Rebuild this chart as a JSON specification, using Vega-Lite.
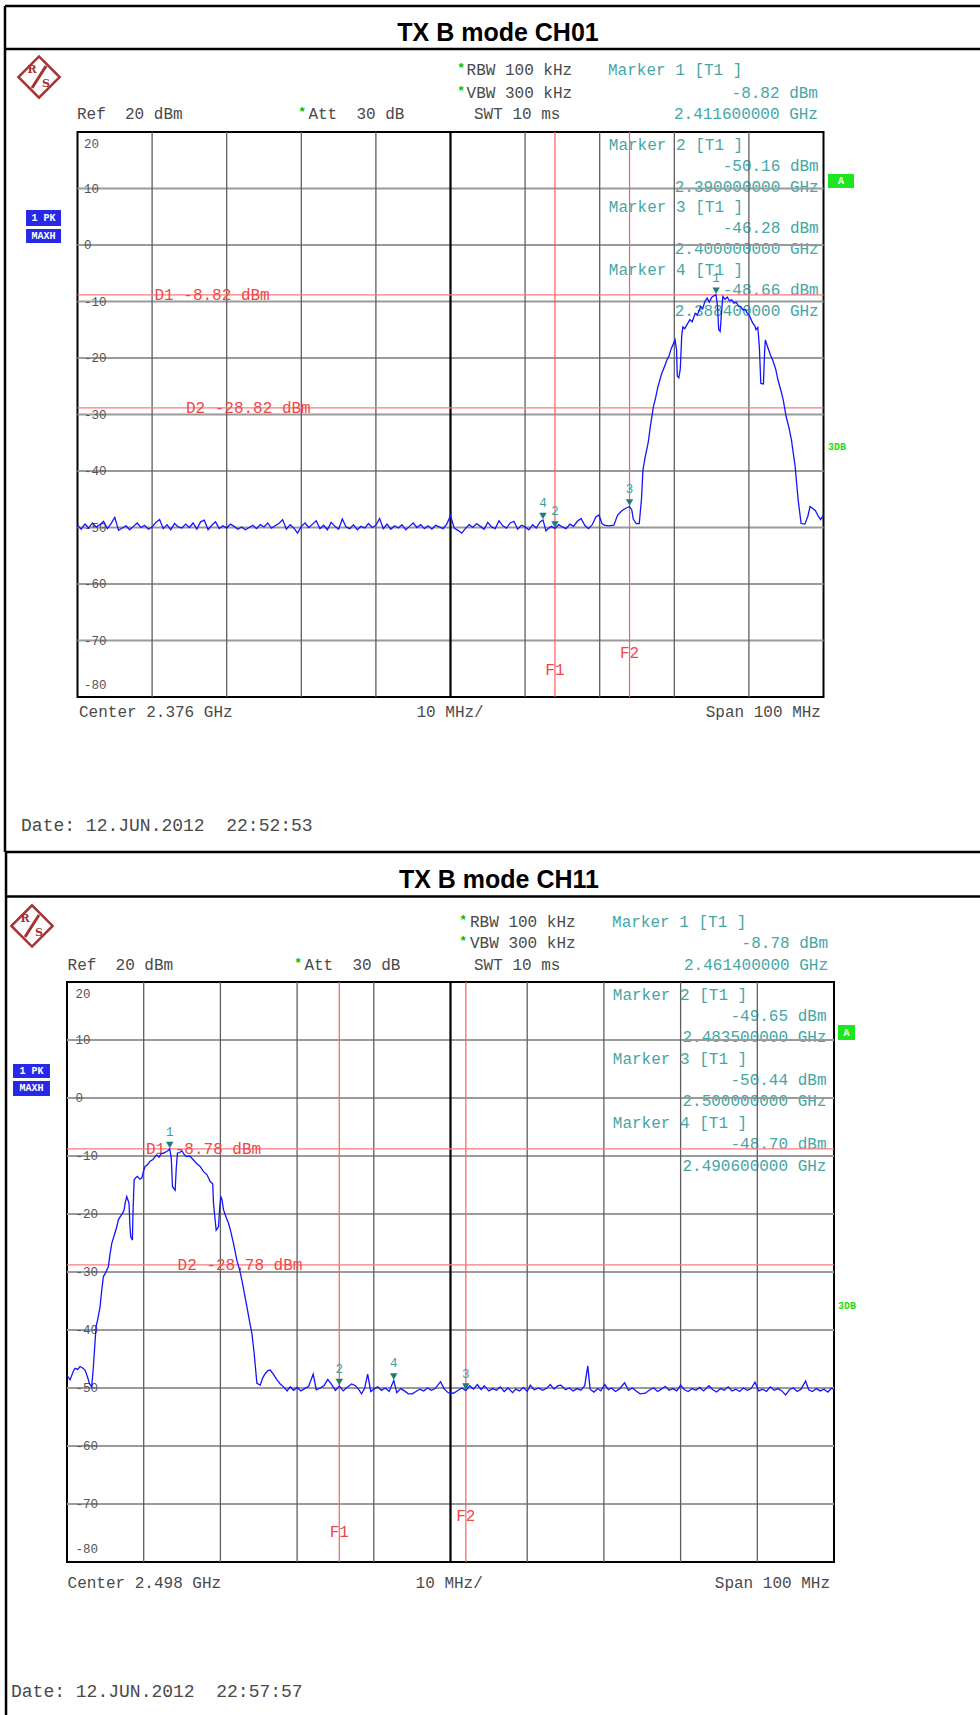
{
"$schema": "https://vega.github.io/schema/vega-lite/v6.json",
"autosize": {"type": "none"},
"padding": {"left": 67, "top": 132, "right": 913, "bottom": 1583},
"background": "white",
"bounds": "flush",
"center": true,
"spacing": 285,
"config": {"view": {"stroke": "black", "strokeWidth": 2}, "axis": {"disable": true}, "legend": {"disable": true}},
"datasets": {
"hg": [{"y":10},{"y":0},{"y":-10},{"y":-20},{"y":-30},{"y":-40},{"y":-50},{"y":-60},{"y":-70}],
"t1": [{"f":2.326,"p":-49.6},{"f":2.3265,"p":-50.3},{"f":2.327,"p":-49.4},{"f":2.3275,"p":-50.1},{"f":2.328,"p":-49.2},{"f":2.3285,"p":-49.9},{"f":2.329,"p":-49.5},{"f":2.3295,"p":-48.9},{"f":2.33,"p":-50.2},{"f":2.3305,"p":-49.3},{"f":2.331,"p":-48.2},{"f":2.3315,"p":-50.5},{"f":2.332,"p":-50.1},{"f":2.3325,"p":-49.7},{"f":2.333,"p":-50.4},{"f":2.3335,"p":-49.8},{"f":2.334,"p":-49.2},{"f":2.3345,"p":-50.0},{"f":2.335,"p":-49.6},{"f":2.3355,"p":-50.3},{"f":2.336,"p":-49.9},{"f":2.3365,"p":-49.1},{"f":2.337,"p":-48.6},{"f":2.3375,"p":-50.2},{"f":2.338,"p":-49.5},{"f":2.3385,"p":-50.4},{"f":2.339,"p":-49.3},{"f":2.3395,"p":-49.9},{"f":2.34,"p":-50.1},{"f":2.3405,"p":-49.4},{"f":2.341,"p":-50.0},{"f":2.3415,"p":-49.2},{"f":2.342,"p":-50.3},{"f":2.3425,"p":-49.0},{"f":2.343,"p":-48.7},{"f":2.3435,"p":-50.4},{"f":2.344,"p":-49.6},{"f":2.3445,"p":-49.0},{"f":2.345,"p":-50.2},{"f":2.3455,"p":-49.7},{"f":2.346,"p":-50.1},{"f":2.3465,"p":-49.4},{"f":2.347,"p":-49.8},{"f":2.3475,"p":-50.3},{"f":2.348,"p":-49.9},{"f":2.3485,"p":-50.4},{"f":2.349,"p":-50.0},{"f":2.3495,"p":-49.6},{"f":2.35,"p":-50.2},{"f":2.3505,"p":-49.5},{"f":2.351,"p":-49.9},{"f":2.3515,"p":-49.2},{"f":2.352,"p":-50.1},{"f":2.3525,"p":-49.7},{"f":2.353,"p":-49.3},{"f":2.3535,"p":-48.6},{"f":2.354,"p":-50.3},{"f":2.3545,"p":-49.5},{"f":2.355,"p":-50.1},{"f":2.3555,"p":-51.0},{"f":2.356,"p":-49.8},{"f":2.3565,"p":-49.2},{"f":2.357,"p":-50.0},{"f":2.3575,"p":-49.4},{"f":2.358,"p":-48.8},{"f":2.3585,"p":-50.2},{"f":2.359,"p":-49.6},{"f":2.3595,"p":-50.4},{"f":2.36,"p":-49.1},{"f":2.3605,"p":-49.8},{"f":2.361,"p":-50.3},{"f":2.3615,"p":-48.5},{"f":2.362,"p":-49.9},{"f":2.3625,"p":-50.2},{"f":2.363,"p":-49.5},{"f":2.3635,"p":-50.4},{"f":2.364,"p":-49.8},{"f":2.3645,"p":-50.1},{"f":2.365,"p":-49.3},{"f":2.3655,"p":-50.0},{"f":2.366,"p":-49.6},{"f":2.3665,"p":-48.4},{"f":2.367,"p":-50.2},{"f":2.3675,"p":-49.4},{"f":2.368,"p":-50.3},{"f":2.3685,"p":-49.7},{"f":2.369,"p":-50.1},{"f":2.3695,"p":-49.5},{"f":2.37,"p":-50.4},{"f":2.3705,"p":-49.8},{"f":2.371,"p":-49.2},{"f":2.3715,"p":-50.0},{"f":2.372,"p":-49.5},{"f":2.3725,"p":-50.2},{"f":2.373,"p":-49.7},{"f":2.3735,"p":-50.3},{"f":2.374,"p":-49.6},{"f":2.3745,"p":-49.9},{"f":2.375,"p":-50.2},{"f":2.3755,"p":-49.4},{"f":2.376,"p":-47.9},{"f":2.3765,"p":-50.1},{"f":2.377,"p":-50.5},{"f":2.3775,"p":-51.0},{"f":2.378,"p":-50.2},{"f":2.3785,"p":-49.5},{"f":2.379,"p":-50.0},{"f":2.3795,"p":-49.3},{"f":2.38,"p":-49.8},{"f":2.3805,"p":-50.3},{"f":2.381,"p":-49.1},{"f":2.3815,"p":-49.9},{"f":2.382,"p":-50.2},{"f":2.3825,"p":-48.8},{"f":2.383,"p":-49.7},{"f":2.3835,"p":-50.1},{"f":2.384,"p":-49.2},{"f":2.3845,"p":-48.9},{"f":2.385,"p":-50.3},{"f":2.3855,"p":-49.6},{"f":2.386,"p":-49.9},{"f":2.3865,"p":-50.4},{"f":2.387,"p":-49.5},{"f":2.3875,"p":-50.1},{"f":2.388,"p":-49.0},{"f":2.3884,"p":-48.66},{"f":2.3888,"p":-50.6},{"f":2.389,"p":-50.3},{"f":2.3895,"p":-49.8},{"f":2.39,"p":-50.16},{"f":2.3905,"p":-49.5},{"f":2.391,"p":-49.9},{"f":2.3915,"p":-50.2},{"f":2.392,"p":-49.4},{"f":2.3925,"p":-49.8},{"f":2.393,"p":-48.9},{"f":2.3935,"p":-48.4},{"f":2.394,"p":-49.6},{"f":2.3945,"p":-50.2},{"f":2.395,"p":-49.5},{"f":2.3955,"p":-48.1},{"f":2.3959,"p":-47.8},{"f":2.3963,"p":-49.3},{"f":2.3966,"p":-49.6},{"f":2.3972,"p":-49.7},{"f":2.3979,"p":-49.6},{"f":2.3984,"p":-47.8},{"f":2.399,"p":-47.0},{"f":2.3995,"p":-46.6},{"f":2.4,"p":-46.28},{"f":2.4003,"p":-46.9},{"f":2.4005,"p":-48.5},{"f":2.4009,"p":-49.3},{"f":2.4013,"p":-49.3},{"f":2.4016,"p":-45.0},{"f":2.4018,"p":-39.8},{"f":2.4021,"p":-37.5},{"f":2.4025,"p":-35.0},{"f":2.4028,"p":-32.0},{"f":2.4032,"p":-28.6},{"f":2.4035,"p":-27.0},{"f":2.4038,"p":-25.1},{"f":2.4043,"p":-22.8},{"f":2.4046,"p":-21.8},{"f":2.405,"p":-20.4},{"f":2.4053,"p":-19.6},{"f":2.4056,"p":-18.3},{"f":2.4061,"p":-16.8},{"f":2.4063,"p":-18.5},{"f":2.4064,"p":-23.2},{"f":2.4066,"p":-23.5},{"f":2.4068,"p":-22.0},{"f":2.407,"p":-16.0},{"f":2.40715,"p":-14.5},{"f":2.4074,"p":-14.8},{"f":2.4077,"p":-14.1},{"f":2.4081,"p":-13.2},{"f":2.4084,"p":-13.6},{"f":2.4088,"p":-12.1},{"f":2.4091,"p":-12.4},{"f":2.4095,"p":-10.9},{"f":2.4098,"p":-11.3},{"f":2.4101,"p":-10.0},{"f":2.4104,"p":-9.4},{"f":2.4107,"p":-10.1},{"f":2.411,"p":-9.3},{"f":2.4113,"p":-9.0},{"f":2.4116,"p":-8.82},{"f":2.4118,"p":-11.0},{"f":2.41195,"p":-15.0},{"f":2.41215,"p":-15.3},{"f":2.4123,"p":-12.5},{"f":2.4125,"p":-9.1},{"f":2.4128,"p":-9.6},{"f":2.4131,"p":-9.2},{"f":2.4134,"p":-9.9},{"f":2.4137,"p":-9.7},{"f":2.414,"p":-10.3},{"f":2.4143,"p":-10.1},{"f":2.4146,"p":-10.8},{"f":2.4149,"p":-10.9},{"f":2.4152,"p":-11.5},{"f":2.4155,"p":-11.4},{"f":2.4158,"p":-12.1},{"f":2.4161,"p":-12.6},{"f":2.4165,"p":-13.8},{"f":2.4168,"p":-14.3},{"f":2.41695,"p":-15.0},{"f":2.4172,"p":-14.6},{"f":2.4174,"p":-18.0},{"f":2.4176,"p":-24.5},{"f":2.41795,"p":-24.6},{"f":2.4181,"p":-19.0},{"f":2.4182,"p":-16.8},{"f":2.4185,"p":-18.0},{"f":2.4189,"p":-19.5},{"f":2.4192,"p":-20.4},{"f":2.4196,"p":-22.0},{"f":2.4199,"p":-23.9},{"f":2.4203,"p":-25.8},{"f":2.4206,"p":-27.4},{"f":2.421,"p":-30.4},{"f":2.4214,"p":-32.5},{"f":2.4217,"p":-34.5},{"f":2.4222,"p":-39.2},{"f":2.4226,"p":-45.1},{"f":2.423,"p":-49.3},{"f":2.4235,"p":-49.4},{"f":2.4239,"p":-48.0},{"f":2.4242,"p":-46.3},{"f":2.4246,"p":-46.7},{"f":2.4249,"p":-47.0},{"f":2.4253,"p":-48.0},{"f":2.4256,"p":-48.6},{"f":2.426,"p":-47.8}],
"t2": [{"f":2.448,"p":-47.8},{"f":2.4484,"p":-48.6},{"f":2.4488,"p":-47.2},{"f":2.44904,"p":-46.6},{"f":2.4494,"p":-46.8},{"f":2.4497,"p":-46.3},{"f":2.45,"p":-46.5},{"f":2.45035,"p":-46.9},{"f":2.4507,"p":-48.2},{"f":2.45092,"p":-49.2},{"f":2.45122,"p":-49.8},{"f":2.45144,"p":-46.3},{"f":2.45179,"p":-39.4},{"f":2.452,"p":-38.2},{"f":2.45231,"p":-36.0},{"f":2.4525,"p":-33.5},{"f":2.45274,"p":-30.8},{"f":2.453,"p":-30.2},{"f":2.45339,"p":-29.1},{"f":2.4536,"p":-27.0},{"f":2.45383,"p":-25.1},{"f":2.4542,"p":-23.5},{"f":2.45449,"p":-22.2},{"f":2.4547,"p":-21.0},{"f":2.45492,"p":-20.5},{"f":2.4552,"p":-20.0},{"f":2.45544,"p":-19.3},{"f":2.4556,"p":-18.0},{"f":2.45579,"p":-17.0},{"f":2.456,"p":-17.8},{"f":2.45609,"p":-18.2},{"f":2.4562,"p":-22.0},{"f":2.45631,"p":-23.9},{"f":2.45653,"p":-24.5},{"f":2.4566,"p":-20.0},{"f":2.45675,"p":-14.1},{"f":2.457,"p":-13.7},{"f":2.45718,"p":-13.5},{"f":2.4575,"p":-14.0},{"f":2.45775,"p":-13.8},{"f":2.458,"p":-12.5},{"f":2.45818,"p":-11.8},{"f":2.4585,"p":-11.5},{"f":2.45884,"p":-10.9},{"f":2.4592,"p":-10.6},{"f":2.4595,"p":-10.1},{"f":2.45971,"p":-9.8},{"f":2.46,"p":-10.2},{"f":2.4603,"p":-9.6},{"f":2.46058,"p":-9.5},{"f":2.4609,"p":-9.3},{"f":2.46123,"p":-9.0},{"f":2.4614,"p":-8.78},{"f":2.4616,"p":-10.5},{"f":2.46175,"p":-15.3},{"f":2.4621,"p":-15.9},{"f":2.46225,"p":-12.0},{"f":2.4624,"p":-9.5},{"f":2.4627,"p":-9.4},{"f":2.46297,"p":-9.1},{"f":2.4633,"p":-9.8},{"f":2.46362,"p":-10.1},{"f":2.464,"p":-10.0},{"f":2.46449,"p":-10.7},{"f":2.4649,"p":-11.3},{"f":2.46536,"p":-11.8},{"f":2.4658,"p":-12.7},{"f":2.46624,"p":-13.2},{"f":2.46667,"p":-14.4},{"f":2.467,"p":-14.8},{"f":2.4671,"p":-18.2},{"f":2.46745,"p":-22.8},{"f":2.46775,"p":-22.2},{"f":2.4679,"p":-19.0},{"f":2.46806,"p":-17.0},{"f":2.4682,"p":-17.5},{"f":2.46841,"p":-19.3},{"f":2.4687,"p":-20.4},{"f":2.46906,"p":-21.6},{"f":2.4694,"p":-23.3},{"f":2.46971,"p":-25.1},{"f":2.47015,"p":-28.0},{"f":2.4705,"p":-29.6},{"f":2.4708,"p":-31.4},{"f":2.4711,"p":-33.5},{"f":2.47146,"p":-36.0},{"f":2.4718,"p":-38.5},{"f":2.47211,"p":-40.6},{"f":2.4724,"p":-44.0},{"f":2.47276,"p":-49.2},{"f":2.4732,"p":-49.5},{"f":2.4735,"p":-48.3},{"f":2.47385,"p":-47.5},{"f":2.4742,"p":-47.0},{"f":2.4745,"p":-46.9},{"f":2.4749,"p":-47.6},{"f":2.47538,"p":-48.6},{"f":2.4758,"p":-49.3},{"f":2.47624,"p":-49.8},{"f":2.4767,"p":-50.5},{"f":2.4771,"p":-49.8},{"f":2.47754,"p":-50.4},{"f":2.478,"p":-49.9},{"f":2.4785,"p":-50.5},{"f":2.479,"p":-50.1},{"f":2.4795,"p":-49.7},{"f":2.4801,"p":-47.6},{"f":2.4805,"p":-50.3},{"f":2.481,"p":-50.0},{"f":2.4815,"p":-49.6},{"f":2.482,"p":-48.5},{"f":2.4824,"p":-49.2},{"f":2.483,"p":-50.4},{"f":2.4835,"p":-49.65},{"f":2.484,"p":-50.5},{"f":2.4845,"p":-49.9},{"f":2.4851,"p":-49.3},{"f":2.4856,"p":-49.6},{"f":2.486,"p":-50.2},{"f":2.4864,"p":-51.0},{"f":2.4868,"p":-50.1},{"f":2.4872,"p":-47.6},{"f":2.4876,"p":-50.6},{"f":2.488,"p":-50.2},{"f":2.4885,"p":-49.8},{"f":2.489,"p":-50.4},{"f":2.4895,"p":-50.0},{"f":2.49,"p":-50.6},{"f":2.4906,"p":-48.7},{"f":2.491,"p":-50.8},{"f":2.4915,"p":-50.1},{"f":2.492,"p":-50.5},{"f":2.4925,"p":-51.0},{"f":2.493,"p":-51.0},{"f":2.4935,"p":-50.6},{"f":2.494,"p":-50.2},{"f":2.4945,"p":-50.5},{"f":2.495,"p":-50.0},{"f":2.4955,"p":-50.4},{"f":2.496,"p":-50.1},{"f":2.4967,"p":-48.9},{"f":2.4972,"p":-50.2},{"f":2.4977,"p":-50.8},{"f":2.4984,"p":-50.9},{"f":2.499,"p":-50.4},{"f":2.4995,"p":-50.0},{"f":2.5,"p":-50.44},{"f":2.5005,"p":-49.6},{"f":2.501,"p":-50.2},{"f":2.5015,"p":-49.4},{"f":2.502,"p":-50.3},{"f":2.5024,"p":-49.6},{"f":2.503,"p":-50.5},{"f":2.5035,"p":-50.1},{"f":2.504,"p":-50.4},{"f":2.5045,"p":-49.8},{"f":2.505,"p":-50.6},{"f":2.5055,"p":-50.0},{"f":2.5061,"p":-50.8},{"f":2.5065,"p":-50.2},{"f":2.507,"p":-50.5},{"f":2.5075,"p":-49.9},{"f":2.508,"p":-50.6},{"f":2.5084,"p":-49.5},{"f":2.5089,"p":-50.3},{"f":2.5095,"p":-50.0},{"f":2.51,"p":-50.4},{"f":2.5105,"p":-50.1},{"f":2.511,"p":-49.4},{"f":2.5115,"p":-50.2},{"f":2.512,"p":-49.6},{"f":2.5124,"p":-49.5},{"f":2.513,"p":-50.3},{"f":2.5135,"p":-50.0},{"f":2.514,"p":-50.5},{"f":2.5145,"p":-50.1},{"f":2.515,"p":-50.4},{"f":2.5155,"p":-49.6},{"f":2.5159,"p":-46.2},{"f":2.5162,"p":-50.2},{"f":2.5167,"p":-50.7},{"f":2.5172,"p":-50.1},{"f":2.5176,"p":-50.5},{"f":2.5181,"p":-49.4},{"f":2.5186,"p":-50.3},{"f":2.519,"p":-50.0},{"f":2.5195,"p":-50.6},{"f":2.52,"p":-50.2},{"f":2.5207,"p":-49.1},{"f":2.5212,"p":-50.4},{"f":2.5217,"p":-50.0},{"f":2.5222,"p":-50.5},{"f":2.5227,"p":-51.0},{"f":2.5234,"p":-50.9},{"f":2.524,"p":-50.3},{"f":2.5245,"p":-50.0},{"f":2.525,"p":-50.6},{"f":2.5255,"p":-50.2},{"f":2.526,"p":-49.7},{"f":2.5265,"p":-50.4},{"f":2.527,"p":-50.1},{"f":2.5275,"p":-50.5},{"f":2.528,"p":-49.5},{"f":2.5285,"p":-50.3},{"f":2.529,"p":-50.6},{"f":2.5295,"p":-50.1},{"f":2.53,"p":-50.4},{"f":2.5305,"p":-49.9},{"f":2.531,"p":-50.5},{"f":2.5317,"p":-49.6},{"f":2.5322,"p":-50.3},{"f":2.5327,"p":-50.7},{"f":2.5332,"p":-50.1},{"f":2.5337,"p":-50.4},{"f":2.5342,"p":-49.8},{"f":2.5347,"p":-50.5},{"f":2.5352,"p":-50.2},{"f":2.5357,"p":-50.6},{"f":2.5362,"p":-50.0},{"f":2.5367,"p":-50.4},{"f":2.5372,"p":-50.1},{"f":2.5377,"p":-49.0},{"f":2.5382,"p":-50.5},{"f":2.5387,"p":-50.2},{"f":2.5392,"p":-50.6},{"f":2.5397,"p":-49.8},{"f":2.5402,"p":-50.4},{"f":2.5407,"p":-50.1},{"f":2.5412,"p":-50.5},{"f":2.5417,"p":-51.2},{"f":2.5422,"p":-50.3},{"f":2.5427,"p":-50.0},{"f":2.5432,"p":-50.6},{"f":2.5437,"p":-50.2},{"f":2.5443,"p":-48.8},{"f":2.5447,"p":-50.3},{"f":2.5452,"p":-50.6},{"f":2.5457,"p":-50.1},{"f":2.5462,"p":-50.5},{"f":2.5467,"p":-50.2},{"f":2.5472,"p":-50.7},{"f":2.5477,"p":-50.0},{"f":2.548,"p":-50.3}]
},
"vconcat": [
{
"width": 746, "height": 565,
"layer": [
{"data":{"values":[{"x":2.39711,"y":30.97,"t":"Marker 1 [T1 ]"},{"x":2.39722,"y":17.70,"t":"Marker 2 [T1 ]"},{"x":2.39722,"y":6.64,"t":"Marker 3 [T1 ]"},{"x":2.39722,"y":-4.34,"t":"Marker 4 [T1 ]"}]},"mark":{"type":"text","align":"left","baseline":"middle","font":"Liberation Mono","fontSize":16,"color":"#45a6a6"},"encoding":{"x":{"field":"x","type":"quantitative","scale":{"domain":[2.326,2.426],"nice":false,"zero":false}},"y":{"field":"y","type":"quantitative","scale":{"domain":[-80,20],"nice":false,"zero":false}},"text":{"field":"t","type":"nominal"}}},
{"data":{"values":[{"x":2.42526,"y":26.90,"t":"-8.82 dBm"},{"x":2.42526,"y":23.10,"t":"2.411600000 GHz"},{"x":2.42536,"y":14.07,"t":"-50.16 dBm"},{"x":2.42536,"y":10.35,"t":"2.390000000 GHz"},{"x":2.42536,"y":3.01,"t":"-46.28 dBm"},{"x":2.42536,"y":-0.62,"t":"2.400000000 GHz"},{"x":2.42536,"y":-7.96,"t":"-48.66 dBm"},{"x":2.42536,"y":-11.68,"t":"2.388400000 GHz"}]},"mark":{"type":"text","align":"right","baseline":"middle","font":"Liberation Mono","fontSize":16,"color":"#45a6a6"},"encoding":{"x":{"field":"x","type":"quantitative","scale":{"domain":[2.326,2.426],"nice":false,"zero":false}},"y":{"field":"y","type":"quantitative","scale":{"domain":[-80,20],"nice":false,"zero":false}},"text":{"field":"t","type":"nominal"}}},
{"data":{"name":"hg"},"mark":{"type":"rule","color":"#9a9a9a","strokeWidth":2},"encoding":{"y":{"field":"y","type":"quantitative","scale":{"domain":[-80,20],"nice":false,"zero":false}}}},
{"data":{"values":[{"x":2.336},{"x":2.346},{"x":2.356},{"x":2.366},{"x":2.386},{"x":2.396},{"x":2.406},{"x":2.416}]},"mark":{"type":"rule","color":"#5e5e5e","strokeWidth":1.3},"encoding":{"x":{"field":"x","type":"quantitative","scale":{"domain":[2.326,2.426],"nice":false,"zero":false}}}},
{"data":{"values":[{"x":2.376}]},"mark":{"type":"rule","color":"#000000","strokeWidth":2.2},"encoding":{"x":{"field":"x","type":"quantitative","scale":{"domain":[2.326,2.426],"nice":false,"zero":false}}}},
{"data":{"values":[{"x":2.39},{"x":2.4}]},"mark":{"type":"rule","color":"#ff5c5c","strokeWidth":1.2},"encoding":{"x":{"field":"x","type":"quantitative","scale":{"domain":[2.326,2.426],"nice":false,"zero":false}}}},
{"data":{"values":[{"y":-8.82},{"y":-28.82}]},"mark":{"type":"rule","color":"#ff7a7a","strokeWidth":1.3},"encoding":{"y":{"field":"y","type":"quantitative","scale":{"domain":[-80,20],"nice":false,"zero":false}}}},
{"data":{"values":[{"x":2.33632,"y":-8.82,"t":"D1 -8.82 dBm"},{"x":2.34053,"y":-28.82,"t":"D2 -28.82 dBm"}]},"mark":{"type":"text","align":"left","baseline":"middle","font":"Liberation Mono","fontSize":16,"color":"#f04848"},"encoding":{"x":{"field":"x","type":"quantitative","scale":{"domain":[2.326,2.426],"nice":false,"zero":false}},"y":{"field":"y","type":"quantitative","scale":{"domain":[-80,20],"nice":false,"zero":false}},"text":{"field":"t","type":"nominal"}}},
{"data":{"values":[{"x":2.39,"y":-75.19,"t":"F1"},{"x":2.4,"y":-72.14,"t":"F2"}]},"mark":{"type":"text","align":"center","baseline":"middle","font":"Liberation Mono","fontSize":16,"color":"#f04848"},"encoding":{"x":{"field":"x","type":"quantitative","scale":{"domain":[2.326,2.426],"nice":false,"zero":false}},"y":{"field":"y","type":"quantitative","scale":{"domain":[-80,20],"nice":false,"zero":false}},"text":{"field":"t","type":"nominal"}}},
{"data":{"values":[{"x":2.32687,"y":17.9,"t":"20"},{"x":2.32687,"y":10,"t":"10"},{"x":2.32687,"y":0,"t":"0"},{"x":2.32687,"y":-10,"t":"-10"},{"x":2.32687,"y":-20,"t":"-20"},{"x":2.32687,"y":-30,"t":"-30"},{"x":2.32687,"y":-40,"t":"-40"},{"x":2.32687,"y":-50,"t":"-50"},{"x":2.32687,"y":-60,"t":"-60"},{"x":2.32687,"y":-70,"t":"-70"},{"x":2.32687,"y":-77.9,"t":"-80"}]},"mark":{"type":"text","align":"left","baseline":"middle","font":"Liberation Mono","fontSize":12.5,"color":"#555555"},"encoding":{"x":{"field":"x","type":"quantitative","scale":{"domain":[2.326,2.426],"nice":false,"zero":false}},"y":{"field":"y","type":"quantitative","scale":{"domain":[-80,20],"nice":false,"zero":false}},"text":{"field":"t","type":"nominal"}}},
{"data":{"name":"t1"},"mark":{"type":"line","color":"#1414ff","strokeWidth":1.3},"encoding":{"x":{"field":"f","type":"quantitative","scale":{"domain":[2.326,2.426],"nice":false,"zero":false}},"y":{"field":"p","type":"quantitative","scale":{"domain":[-80,20],"nice":false,"zero":false}}}},
{"data":{"values":[{"f":2.4116,"p":-8.82,"n":"1"},{"f":2.39,"p":-50.16,"n":"2"},{"f":2.4,"p":-46.28,"n":"3"},{"f":2.3884,"p":-48.66,"n":"4"}]},"layer":[
{"mark":{"type":"point","shape":"triangle-down","filled":true,"size":55,"opacity":1,"color":"#1e7b7b","yOffset":-4},"encoding":{"x":{"field":"f","type":"quantitative","scale":{"domain":[2.326,2.426],"nice":false,"zero":false}},"y":{"field":"p","type":"quantitative","scale":{"domain":[-80,20],"nice":false,"zero":false}}}},
{"mark":{"type":"text","align":"center","baseline":"middle","dy":-17,"font":"Liberation Mono","fontSize":12.5,"color":"#3a9e9e"},"encoding":{"x":{"field":"f","type":"quantitative","scale":{"domain":[2.326,2.426],"nice":false,"zero":false}},"y":{"field":"p","type":"quantitative","scale":{"domain":[-80,20],"nice":false,"zero":false}},"text":{"field":"n","type":"nominal"}}}]},
{"data":{"values":[{"x":2.37815,"y":30.97,"t":"RBW 100 kHz"},{"x":2.37815,"y":26.90,"t":"VBW 300 kHz"},{"x":2.32593,"y":23.10,"t":"Ref \u00a020 dBm"},{"x":2.35695,"y":23.10,"t":"Att \u00a030 dB"},{"x":2.37915,"y":23.10,"t":"SWT 10 ms"},{"x":2.3262,"y":-82.74,"t":"Center 2.376 GHz"},{"x":2.37144,"y":-82.74,"t":"10 MHz/"}]},"mark":{"type":"text","align":"left","baseline":"middle","font":"Liberation Mono","fontSize":16,"color":"#4a4a4a"},"encoding":{"x":{"field":"x","type":"quantitative","scale":{"domain":[2.326,2.426],"nice":false,"zero":false}},"y":{"field":"y","type":"quantitative","scale":{"domain":[-80,20],"nice":false,"zero":false}},"text":{"field":"t","type":"nominal"}}},
{"data":{"values":[{"x":2.42566,"y":-82.74,"t":"Span 100 MHz"}]},"mark":{"type":"text","align":"right","baseline":"middle","font":"Liberation Mono","fontSize":16,"color":"#4a4a4a"},"encoding":{"x":{"field":"x","type":"quantitative","scale":{"domain":[2.326,2.426],"nice":false,"zero":false}},"y":{"field":"y","type":"quantitative","scale":{"domain":[-80,20],"nice":false,"zero":false}},"text":{"field":"t","type":"nominal"}}},
{"data":{"values":[{"x":2.37794,"y":30.97,"t":"*"},{"x":2.37794,"y":26.90,"t":"*"},{"x":2.35663,"y":23.10,"t":"*"}]},"mark":{"type":"text","align":"right","baseline":"middle","dy":-2,"font":"Liberation Mono","fontSize":13,"fontWeight":"bold","color":"#00c000"},"encoding":{"x":{"field":"x","type":"quantitative","scale":{"domain":[2.326,2.426],"nice":false,"zero":false}},"y":{"field":"y","type":"quantitative","scale":{"domain":[-80,20],"nice":false,"zero":false}},"text":{"field":"t","type":"nominal"}}},
{"data":{"values":[{"x":2.31843,"y":-102.83,"t":"Date: 12.JUN.2012 \u00a022:52:53"}]},"mark":{"type":"text","align":"left","baseline":"middle","font":"Liberation Mono","fontSize":18,"color":"#4a4a4a"},"encoding":{"x":{"field":"x","type":"quantitative","scale":{"domain":[2.326,2.426],"nice":false,"zero":false}},"y":{"field":"y","type":"quantitative","scale":{"domain":[-80,20],"nice":false,"zero":false}},"text":{"field":"t","type":"nominal"}}},
{"data":{"values":[{"x":2.38237,"y":37.52,"t":"TX B mode CH01"}]},"mark":{"type":"text","align":"center","baseline":"middle","font":"Liberation Sans","fontSize":25,"fontWeight":"bold","color":"#000000"},"encoding":{"x":{"field":"x","type":"quantitative","scale":{"domain":[2.326,2.426],"nice":false,"zero":false}},"y":{"field":"y","type":"quantitative","scale":{"domain":[-80,20],"nice":false,"zero":false}},"text":{"field":"t","type":"nominal"}}},
{"data":{"values":[{"x":2.3191,"x2":2.32379,"y":6.19,"y2":3.36},{"x":2.3191,"x2":2.32379,"y":2.83,"y2":0.35}]},"mark":{"type":"rect","color":"#2828e8"},"encoding":{"x":{"field":"x","type":"quantitative","scale":{"domain":[2.326,2.426],"nice":false,"zero":false}},"x2":{"field":"x2"},"y":{"field":"y","type":"quantitative","scale":{"domain":[-80,20],"nice":false,"zero":false}},"y2":{"field":"y2"}}},
{"data":{"values":[{"x":2.4266,"x2":2.43009,"y":12.57,"y2":10.09}]},"mark":{"type":"rect","color":"#1ee61e"},"encoding":{"x":{"field":"x","type":"quantitative","scale":{"domain":[2.326,2.426],"nice":false,"zero":false}},"x2":{"field":"x2"},"y":{"field":"y","type":"quantitative","scale":{"domain":[-80,20],"nice":false,"zero":false}},"y2":{"field":"y2"}}},
{"data":{"values":[{"x":2.32144,"y":4.78,"t":"1 PK"},{"x":2.32144,"y":1.59,"t":"MAXH"},{"x":2.42835,"y":11.33,"t":"A"}]},"mark":{"type":"text","align":"center","baseline":"middle","font":"Liberation Mono","fontSize":10,"fontWeight":"bold","color":"#ffffff"},"encoding":{"x":{"field":"x","type":"quantitative","scale":{"domain":[2.326,2.426],"nice":false,"zero":false}},"y":{"field":"y","type":"quantitative","scale":{"domain":[-80,20],"nice":false,"zero":false}},"text":{"field":"t","type":"nominal"}}},
{"data":{"values":[{"x":2.4266,"y":-35.75,"t":"3DB"}]},"mark":{"type":"text","align":"left","baseline":"middle","font":"Liberation Mono","fontSize":10,"fontWeight":"bold","color":"#22dd22"},"encoding":{"x":{"field":"x","type":"quantitative","scale":{"domain":[2.326,2.426],"nice":false,"zero":false}},"y":{"field":"y","type":"quantitative","scale":{"domain":[-80,20],"nice":false,"zero":false}},"text":{"field":"t","type":"nominal"}}},
{"data":{"values":[{"x":2.31628,"x2":2.44845,"y":42.3,"y2":42.3},{"x":2.31628,"x2":2.44845,"y":34.69,"y2":34.69},{"x":2.31628,"x2":2.31628,"y":42.3,"y2":-107.43}]},"mark":{"type":"rule","color":"#000000","strokeWidth":2.5},"encoding":{"x":{"field":"x","type":"quantitative","scale":{"domain":[2.326,2.426],"nice":false,"zero":false}},"x2":{"field":"x2"},"y":{"field":"y","type":"quantitative","scale":{"domain":[-80,20],"nice":false,"zero":false}},"y2":{"field":"y2"}}},
{"data":{"values":[{"x":2.32084,"y":29.73}]},"mark":{"type":"point","shape":"diamond","size":1700,"filled":false,"opacity":1,"color":"#a83232","strokeWidth":2.5},"encoding":{"x":{"field":"x","type":"quantitative","scale":{"domain":[2.326,2.426],"nice":false,"zero":false}},"y":{"field":"y","type":"quantitative","scale":{"domain":[-80,20],"nice":false,"zero":false}}}},
{"data":{"values":[{"x":2.3199,"x2":2.32178,"y":27.79,"y2":31.68}]},"mark":{"type":"rule","color":"#a83232","strokeWidth":3},"encoding":{"x":{"field":"x","type":"quantitative","scale":{"domain":[2.326,2.426],"nice":false,"zero":false}},"x2":{"field":"x2"},"y":{"field":"y","type":"quantitative","scale":{"domain":[-80,20],"nice":false,"zero":false}},"y2":{"field":"y2"}}},
{"data":{"values":[{"x":2.3199,"y":30.97,"t":"R"},{"x":2.32178,"y":28.5,"t":"S"}]},"mark":{"type":"text","align":"center","baseline":"middle","font":"DejaVu Serif","fontSize":11,"fontWeight":"bold","color":"#a83232"},"encoding":{"x":{"field":"x","type":"quantitative","scale":{"domain":[2.326,2.426],"nice":false,"zero":false}},"y":{"field":"y","type":"quantitative","scale":{"domain":[-80,20],"nice":false,"zero":false}},"text":{"field":"t","type":"nominal"}}}
]
},
{
"width": 767, "height": 580,
"layer": [
{"data":{"values":[{"x":2.51906,"y":30.43,"t":"Marker 1 [T1 ]"},{"x":2.51916,"y":17.76,"t":"Marker 2 [T1 ]"},{"x":2.51916,"y":6.72,"t":"Marker 3 [T1 ]"},{"x":2.51916,"y":-4.31,"t":"Marker 4 [T1 ]"}]},"mark":{"type":"text","align":"left","baseline":"middle","font":"Liberation Mono","fontSize":16,"color":"#45a6a6"},"encoding":{"x":{"field":"x","type":"quantitative","scale":{"domain":[2.448,2.548],"nice":false,"zero":false}},"y":{"field":"y","type":"quantitative","scale":{"domain":[-80,20],"nice":false,"zero":false}},"text":{"field":"t","type":"nominal"}}},
{"data":{"values":[{"x":2.54722,"y":26.72,"t":"-8.78 dBm"},{"x":2.54722,"y":22.93,"t":"2.461400000 GHz"},{"x":2.54702,"y":14.14,"t":"-49.65 dBm"},{"x":2.54702,"y":10.52,"t":"2.483500000 GHz"},{"x":2.54702,"y":3.10,"t":"-50.44 dBm"},{"x":2.54702,"y":-0.52,"t":"2.500000000 GHz"},{"x":2.54702,"y":-7.93,"t":"-48.70 dBm"},{"x":2.54702,"y":-11.64,"t":"2.490600000 GHz"}]},"mark":{"type":"text","align":"right","baseline":"middle","font":"Liberation Mono","fontSize":16,"color":"#45a6a6"},"encoding":{"x":{"field":"x","type":"quantitative","scale":{"domain":[2.448,2.548],"nice":false,"zero":false}},"y":{"field":"y","type":"quantitative","scale":{"domain":[-80,20],"nice":false,"zero":false}},"text":{"field":"t","type":"nominal"}}},
{"data":{"name":"hg"},"mark":{"type":"rule","color":"#9a9a9a","strokeWidth":2},"encoding":{"y":{"field":"y","type":"quantitative","scale":{"domain":[-80,20],"nice":false,"zero":false}}}},
{"data":{"values":[{"x":2.458},{"x":2.468},{"x":2.478},{"x":2.488},{"x":2.508},{"x":2.518},{"x":2.528},{"x":2.538}]},"mark":{"type":"rule","color":"#5e5e5e","strokeWidth":1.3},"encoding":{"x":{"field":"x","type":"quantitative","scale":{"domain":[2.448,2.548],"nice":false,"zero":false}}}},
{"data":{"values":[{"x":2.498}]},"mark":{"type":"rule","color":"#000000","strokeWidth":2.2},"encoding":{"x":{"field":"x","type":"quantitative","scale":{"domain":[2.448,2.548],"nice":false,"zero":false}}}},
{"data":{"values":[{"x":2.4835},{"x":2.5}]},"mark":{"type":"rule","color":"#ff5c5c","strokeWidth":1.2},"encoding":{"x":{"field":"x","type":"quantitative","scale":{"domain":[2.448,2.548],"nice":false,"zero":false}}}},
{"data":{"values":[{"y":-8.78},{"y":-28.78}]},"mark":{"type":"rule","color":"#ff7a7a","strokeWidth":1.3},"encoding":{"y":{"field":"y","type":"quantitative","scale":{"domain":[-80,20],"nice":false,"zero":false}}}},
{"data":{"values":[{"x":2.45829,"y":-8.78,"t":"D1 -8.78 dBm"},{"x":2.46242,"y":-28.78,"t":"D2 -28.78 dBm"}]},"mark":{"type":"text","align":"left","baseline":"middle","font":"Liberation Mono","fontSize":16,"color":"#f04848"},"encoding":{"x":{"field":"x","type":"quantitative","scale":{"domain":[2.448,2.548],"nice":false,"zero":false}},"y":{"field":"y","type":"quantitative","scale":{"domain":[-80,20],"nice":false,"zero":false}},"text":{"field":"t","type":"nominal"}}},
{"data":{"values":[{"x":2.4835,"y":-74.88,"t":"F1"},{"x":2.5,"y":-72.02,"t":"F2"}]},"mark":{"type":"text","align":"center","baseline":"middle","font":"Liberation Mono","fontSize":16,"color":"#f04848"},"encoding":{"x":{"field":"x","type":"quantitative","scale":{"domain":[2.448,2.548],"nice":false,"zero":false}},"y":{"field":"y","type":"quantitative","scale":{"domain":[-80,20],"nice":false,"zero":false}},"text":{"field":"t","type":"nominal"}}},
{"data":{"values":[{"x":2.44911,"y":17.98,"t":"20"},{"x":2.44911,"y":10,"t":"10"},{"x":2.44911,"y":0,"t":"0"},{"x":2.44911,"y":-10,"t":"-10"},{"x":2.44911,"y":-20,"t":"-20"},{"x":2.44911,"y":-30,"t":"-30"},{"x":2.44911,"y":-40,"t":"-40"},{"x":2.44911,"y":-50,"t":"-50"},{"x":2.44911,"y":-60,"t":"-60"},{"x":2.44911,"y":-70,"t":"-70"},{"x":2.44911,"y":-77.8,"t":"-80"}]},"mark":{"type":"text","align":"left","baseline":"middle","font":"Liberation Mono","fontSize":12.5,"color":"#555555"},"encoding":{"x":{"field":"x","type":"quantitative","scale":{"domain":[2.448,2.548],"nice":false,"zero":false}},"y":{"field":"y","type":"quantitative","scale":{"domain":[-80,20],"nice":false,"zero":false}},"text":{"field":"t","type":"nominal"}}},
{"data":{"name":"t2"},"mark":{"type":"line","color":"#1414ff","strokeWidth":1.3},"encoding":{"x":{"field":"f","type":"quantitative","scale":{"domain":[2.448,2.548],"nice":false,"zero":false}},"y":{"field":"p","type":"quantitative","scale":{"domain":[-80,20],"nice":false,"zero":false}}}},
{"data":{"values":[{"f":2.4614,"p":-8.78,"n":"1"},{"f":2.4835,"p":-49.65,"n":"2"},{"f":2.5,"p":-50.44,"n":"3"},{"f":2.4906,"p":-48.7,"n":"4"}]},"layer":[
{"mark":{"type":"point","shape":"triangle-down","filled":true,"size":55,"opacity":1,"color":"#1e7b7b","yOffset":-4},"encoding":{"x":{"field":"f","type":"quantitative","scale":{"domain":[2.448,2.548],"nice":false,"zero":false}},"y":{"field":"p","type":"quantitative","scale":{"domain":[-80,20],"nice":false,"zero":false}}}},
{"mark":{"type":"text","align":"center","baseline":"middle","dy":-17,"font":"Liberation Mono","fontSize":12.5,"color":"#3a9e9e"},"encoding":{"x":{"field":"f","type":"quantitative","scale":{"domain":[2.448,2.548],"nice":false,"zero":false}},"y":{"field":"p","type":"quantitative","scale":{"domain":[-80,20],"nice":false,"zero":false}},"text":{"field":"n","type":"nominal"}}}]},
{"data":{"values":[{"x":2.50054,"y":30.43,"t":"RBW 100 kHz"},{"x":2.50054,"y":26.72,"t":"VBW 300 kHz"},{"x":2.44807,"y":22.93,"t":"Ref \u00a020 dBm"},{"x":2.47895,"y":22.93,"t":"Att \u00a030 dB"},{"x":2.50106,"y":22.93,"t":"SWT 10 ms"},{"x":2.44807,"y":-83.62,"t":"Center 2.498 GHz"},{"x":2.49345,"y":-83.62,"t":"10 MHz/"}]},"mark":{"type":"text","align":"left","baseline":"middle","font":"Liberation Mono","fontSize":16,"color":"#4a4a4a"},"encoding":{"x":{"field":"x","type":"quantitative","scale":{"domain":[2.448,2.548],"nice":false,"zero":false}},"y":{"field":"y","type":"quantitative","scale":{"domain":[-80,20],"nice":false,"zero":false}},"text":{"field":"t","type":"nominal"}}},
{"data":{"values":[{"x":2.54748,"y":-83.62,"t":"Span 100 MHz"}]},"mark":{"type":"text","align":"right","baseline":"middle","font":"Liberation Mono","fontSize":16,"color":"#4a4a4a"},"encoding":{"x":{"field":"x","type":"quantitative","scale":{"domain":[2.448,2.548],"nice":false,"zero":false}},"y":{"field":"y","type":"quantitative","scale":{"domain":[-80,20],"nice":false,"zero":false}},"text":{"field":"t","type":"nominal"}}},
{"data":{"values":[{"x":2.50015,"y":30.43,"t":"*"},{"x":2.50015,"y":26.72,"t":"*"},{"x":2.47864,"y":22.93,"t":"*"}]},"mark":{"type":"text","align":"right","baseline":"middle","dy":-2,"font":"Liberation Mono","fontSize":13,"fontWeight":"bold","color":"#00c000"},"encoding":{"x":{"field":"x","type":"quantitative","scale":{"domain":[2.448,2.548],"nice":false,"zero":false}},"y":{"field":"y","type":"quantitative","scale":{"domain":[-80,20],"nice":false,"zero":false}},"text":{"field":"t","type":"nominal"}}},
{"data":{"values":[{"x":2.4407,"y":-102.41,"t":"Date: 12.JUN.2012 \u00a022:57:57"}]},"mark":{"type":"text","align":"left","baseline":"middle","font":"Liberation Mono","fontSize":18,"color":"#4a4a4a"},"encoding":{"x":{"field":"x","type":"quantitative","scale":{"domain":[2.448,2.548],"nice":false,"zero":false}},"y":{"field":"y","type":"quantitative","scale":{"domain":[-80,20],"nice":false,"zero":false}},"text":{"field":"t","type":"nominal"}}},
{"data":{"values":[{"x":2.50432,"y":37.59,"t":"TX B mode CH11"}]},"mark":{"type":"text","align":"center","baseline":"middle","font":"Liberation Sans","fontSize":25,"fontWeight":"bold","color":"#000000"},"encoding":{"x":{"field":"x","type":"quantitative","scale":{"domain":[2.448,2.548],"nice":false,"zero":false}},"y":{"field":"y","type":"quantitative","scale":{"domain":[-80,20],"nice":false,"zero":false}},"text":{"field":"t","type":"nominal"}}},
{"data":{"values":[{"x":2.44096,"x2":2.44578,"y":5.86,"y2":3.45},{"x":2.44096,"x2":2.44578,"y":2.93,"y2":0.34}]},"mark":{"type":"rect","color":"#2828e8"},"encoding":{"x":{"field":"x","type":"quantitative","scale":{"domain":[2.448,2.548],"nice":false,"zero":false}},"x2":{"field":"x2"},"y":{"field":"y","type":"quantitative","scale":{"domain":[-80,20],"nice":false,"zero":false}},"y2":{"field":"y2"}}},
{"data":{"values":[{"x":2.54852,"x2":2.55074,"y":12.59,"y2":10.0}]},"mark":{"type":"rect","color":"#1ee61e"},"encoding":{"x":{"field":"x","type":"quantitative","scale":{"domain":[2.448,2.548],"nice":false,"zero":false}},"x2":{"field":"x2"},"y":{"field":"y","type":"quantitative","scale":{"domain":[-80,20],"nice":false,"zero":false}},"y2":{"field":"y2"}}},
{"data":{"values":[{"x":2.44337,"y":4.66,"t":"1 PK"},{"x":2.44337,"y":1.64,"t":"MAXH"},{"x":2.54963,"y":11.29,"t":"A"}]},"mark":{"type":"text","align":"center","baseline":"middle","font":"Liberation Mono","fontSize":10,"fontWeight":"bold","color":"#ffffff"},"encoding":{"x":{"field":"x","type":"quantitative","scale":{"domain":[2.448,2.548],"nice":false,"zero":false}},"y":{"field":"y","type":"quantitative","scale":{"domain":[-80,20],"nice":false,"zero":false}},"text":{"field":"t","type":"nominal"}}},
{"data":{"values":[{"x":2.54852,"y":-35.86,"t":"3DB"}]},"mark":{"type":"text","align":"left","baseline":"middle","font":"Liberation Mono","fontSize":10,"fontWeight":"bold","color":"#22dd22"},"encoding":{"x":{"field":"x","type":"quantitative","scale":{"domain":[2.448,2.548],"nice":false,"zero":false}},"y":{"field":"y","type":"quantitative","scale":{"domain":[-80,20],"nice":false,"zero":false}},"text":{"field":"t","type":"nominal"}}},
{"data":{"values":[{"x":2.44005,"x2":2.5686,"y":42.41,"y2":42.41},{"x":2.44005,"x2":2.5686,"y":34.74,"y2":34.74},{"x":2.44005,"x2":2.44005,"y":42.41,"y2":-110}]},"mark":{"type":"rule","color":"#000000","strokeWidth":2.5},"encoding":{"x":{"field":"x","type":"quantitative","scale":{"domain":[2.448,2.548],"nice":false,"zero":false}},"x2":{"field":"x2"},"y":{"field":"y","type":"quantitative","scale":{"domain":[-80,20],"nice":false,"zero":false}},"y2":{"field":"y2"}}},
{"data":{"values":[{"x":2.44344,"y":29.66}]},"mark":{"type":"point","shape":"diamond","size":1700,"filled":false,"opacity":1,"color":"#a83232","strokeWidth":2.5},"encoding":{"x":{"field":"x","type":"quantitative","scale":{"domain":[2.448,2.548],"nice":false,"zero":false}},"y":{"field":"y","type":"quantitative","scale":{"domain":[-80,20],"nice":false,"zero":false}}}},
{"data":{"values":[{"x":2.44252,"x2":2.44435,"y":27.76,"y2":31.55}]},"mark":{"type":"rule","color":"#a83232","strokeWidth":3},"encoding":{"x":{"field":"x","type":"quantitative","scale":{"domain":[2.448,2.548],"nice":false,"zero":false}},"x2":{"field":"x2"},"y":{"field":"y","type":"quantitative","scale":{"domain":[-80,20],"nice":false,"zero":false}},"y2":{"field":"y2"}}},
{"data":{"values":[{"x":2.44252,"y":30.86,"t":"R"},{"x":2.44435,"y":28.45,"t":"S"}]},"mark":{"type":"text","align":"center","baseline":"middle","font":"DejaVu Serif","fontSize":11,"fontWeight":"bold","color":"#a83232"},"encoding":{"x":{"field":"x","type":"quantitative","scale":{"domain":[2.448,2.548],"nice":false,"zero":false}},"y":{"field":"y","type":"quantitative","scale":{"domain":[-80,20],"nice":false,"zero":false}},"text":{"field":"t","type":"nominal"}}}
]
}
]
}
